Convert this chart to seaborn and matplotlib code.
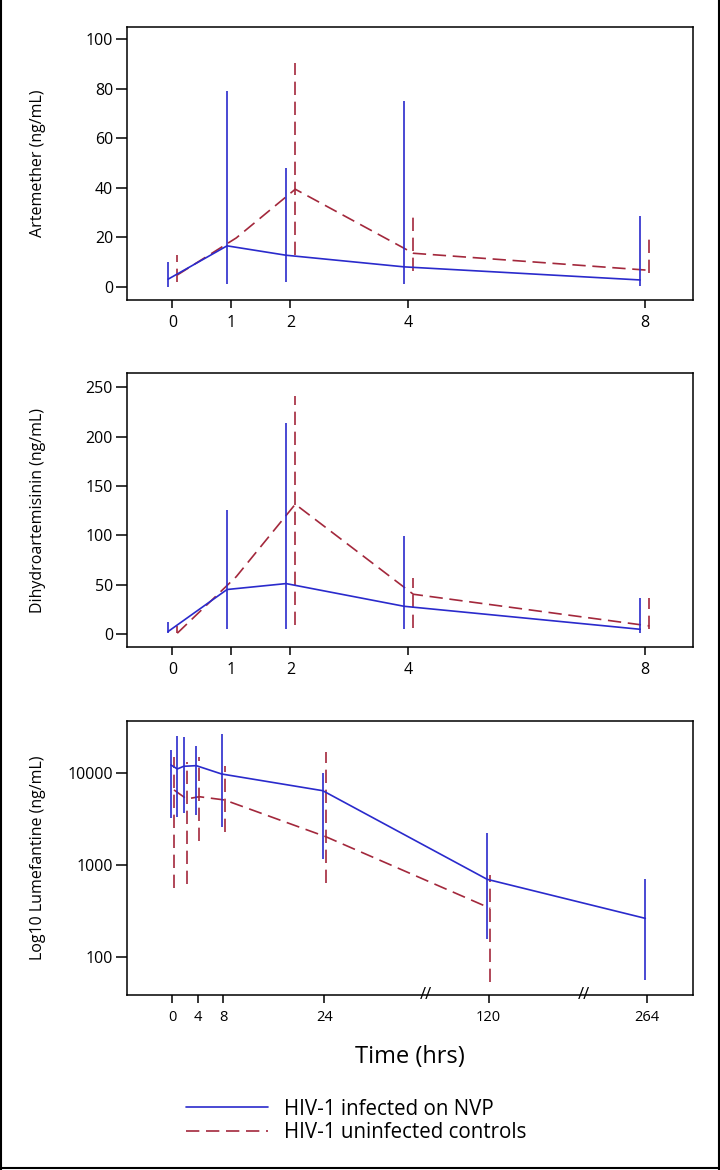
import numpy as np
import pandas as pd
import seaborn as sns
import matplotlib.pyplot as plt
from matplotlib.transforms import ScaledTranslation, blended_transform_factory
from matplotlib.lines import Line2D

# ---- data ----
TIME_ART = [0, 1, 2, 4, 8]

art_nvp_mean = [3.0, 16.5, 12.7, 8.0, 2.7]
art_nvp_lo = [0.0, 1.0, 2.0, 1.0, 0.3]
art_nvp_hi = [10.0, 79.0, 48.0, 75.0, 28.4]
art_ctl_mean = [4.7, 19.7, 39.4, 13.5, 6.6]
art_ctl_lo = [1.7, np.nan, 12.8, 6.2, 5.4]
art_ctl_hi = [12.8, np.nan, 90.4, 30.0, 19.7]

dha_nvp_mean = [2.4, 45.0, 51.0, 28.0, 4.7]
dha_nvp_lo = [0.7, 4.7, 4.7, 4.7, 1.3]
dha_nvp_hi = [12.5, 125.6, 214.0, 99.6, 36.0]
dha_ctl_mean = [0.7, 58.0, 131.4, 40.2, 8.1]
dha_ctl_lo = [0.7, np.nan, 9.0, 5.8, 4.7]
dha_ctl_hi = [8.0, np.nan, 241.0, 56.4, 36.0]

TIME_LUM_NVP = [0, 1, 2, 4, 8, 24, 120, 264]
lum_nvp_mean = [12130, 10970, 11730, 11920, 9680, 6370, 693, 261]
lum_nvp_lo = [3245, 3270, 3620, 3470, 2590, 1146, 154, 56]
lum_nvp_hi = [17660, 25060, 24250, 19500, 26100, 9840, 2230, 693]
TIME_LUM_CTL = [0, 2, 4, 8, 24, 120]
lum_ctl_mean = [6490, 5180, 5480, 5050, 2015, 336]
lum_ctl_lo = [553, 612, 1810, 2285, 637, 53.5]
lum_ctl_hi = [14700, 13180, 14700, 11920, 16910, 773]

LABEL_NVP = "HIV-1 infected on NVP"
LABEL_CTL = "HIV-1 uninfected controls"

BLUE = "#2a2acc"
RED = "#a3283c"
DASH = (0, (8, 4))
LW = 1.2

sns.set_style("ticks")
plt.rcParams["font.family"] = ["Open Sans", "DejaVu Sans"]
plt.rcParams["axes.linewidth"] = 1.1
plt.rcParams["xtick.major.width"] = 1.1
plt.rcParams["ytick.major.width"] = 1.1
plt.rcParams["xtick.color"] = "black"
plt.rcParams["ytick.color"] = "black"
plt.rcParams["axes.edgecolor"] = "black"
plt.rcParams["axes.labelcolor"] = "black"
plt.rcParams["text.color"] = "black"


# broken time axis for the lumefantrine panel
T_KNOTS = np.array([0.0, 24.0, 120.0, 264.0])
P_KNOTS = np.array([0.0, 24.0, 50.0, 75.0])


def fwd(t):
    t = np.asarray(t, dtype=float)
    out = np.interp(t, T_KNOTS, P_KNOTS)
    out = np.where(t < 0, t, out)
    out = np.where(t > 264, 75 + (t - 264) * 25 / 144, out)
    return out


def inv(p):
    p = np.asarray(p, dtype=float)
    out = np.interp(p, P_KNOTS, T_KNOTS)
    out = np.where(p < 0, p, out)
    out = np.where(p > 75, 264 + (p - 75) * 144 / 25, out)
    return out


def draw_group(ax, fig, time, mean, lo, hi, color, ls, label, dx_px):
    tr = ax.transData + ScaledTranslation(dx_px / 100, 0, fig.dpi_scale_trans)
    df = pd.DataFrame({"time": time, "mean": mean, "lo": lo, "hi": hi})
    sns.lineplot(data=df, x="time", y="mean", ax=ax, color=color, linestyle=ls,
                 linewidth=LW, estimator=None, sort=False, label=label,
                 transform=tr)
    ok = df.dropna()
    ax.vlines(ok["time"], ok["lo"], ok["hi"], colors=color, linestyles=[ls],
              linewidth=LW, transform=tr)


fig = plt.figure(figsize=(7.2, 11.7), dpi=100)
ax1 = fig.add_axes([0.1764, 0.7436, 0.786, 0.2333])
ax2 = fig.add_axes([0.1764, 0.4473, 0.786, 0.2336])
ax3 = fig.add_axes([0.1764, 0.1498, 0.786, 0.2342])

panels = [
    (ax1, art_nvp_mean, art_nvp_lo, art_nvp_hi, art_ctl_mean, art_ctl_lo, art_ctl_hi),
    (ax2, dha_nvp_mean, dha_nvp_lo, dha_nvp_hi, dha_ctl_mean, dha_ctl_lo, dha_ctl_hi),
]
for ax, nm, nl, nh, cm, cl, ch in panels:
    draw_group(ax, fig, TIME_ART, cm, cl, ch, RED, DASH, LABEL_CTL, 4.8)
    draw_group(ax, fig, TIME_ART, nm, nl, nh, BLUE, "-", LABEL_NVP, -4.4)
    ax.set_xlim(-0.77, 8.82)
    ax.set_xticks(TIME_ART)
    ax.set_xlabel("")

ax1.set_ylim(-5.4, 105)
ax1.set_yticks([0, 20, 40, 60, 80, 100])
ax1.set_ylabel("Artemether (ng/mL)", fontsize=11.5)
ax2.set_ylim(-12.9, 264)
ax2.set_yticks([0, 50, 100, 150, 200, 250])
ax2.set_ylabel("Dihydroartemisinin (ng/mL)", fontsize=11.5)

ax3.set_yscale("log")
ax3.set_xscale("function", functions=(fwd, inv))
draw_group(ax3, fig, TIME_LUM_CTL, lum_ctl_mean, lum_ctl_lo, lum_ctl_hi, RED, DASH, LABEL_CTL, 1.5)
draw_group(ax3, fig, TIME_LUM_NVP, lum_nvp_mean, lum_nvp_lo, lum_nvp_hi, BLUE, "-", LABEL_NVP, -1.5)
ax3.set_xlim(-7.19, 306)
ax3.set_ylim(38.6, 36700)
ax3.set_xticks([0, 4, 8, 24, 120, 264])
ax3.set_xticklabels(["0", "4", "8", "24", "120", "264"])
ax3.set_yticks([100, 1000, 10000])
ax3.set_yticklabels(["100", "1000", "10000"])
ax3.minorticks_off()
ax3.set_ylabel("Log10 Lumefantine (ng/mL)", fontsize=11.5)
ax3.set_xlabel("Time (hrs)", fontsize=17)
ax3.xaxis.set_label_coords(0.5, -0.185)

# axis break marks
brk = blended_transform_factory(ax3.transData, ax3.transAxes)
for tb in [83.08, 206.4]:
    ax3.text(tb, 0.0, "//", transform=brk, ha="center", va="center",
             fontsize=12, clip_on=False)

for ax in (ax1, ax2, ax3):
    ax.get_legend().remove()
    for s in ax.spines.values():
        s.set_visible(True)
    ax.tick_params(axis="y", length=8, labelsize=11.5, pad=2)
    ax.tick_params(axis="x", length=6, labelsize=11.5, pad=5)
    ax.yaxis.set_label_coords(-0.143, 0.5)
ax3.tick_params(axis="x", labelsize=10.5)

# legend at the bottom
handles = [Line2D([], [], color=BLUE, lw=LW, linestyle="-"),
           Line2D([], [], color=RED, lw=LW, linestyle=DASH)]
fig.legend(handles, [LABEL_NVP, LABEL_CTL], loc="upper left",
           bbox_to_anchor=(0.258, 0.061), frameon=False, fontsize=14.8,
           handlelength=4.0, handletextpad=0.8, labelspacing=0.12,
           borderpad=0, borderaxespad=0)

# outer frame
for xs, ys in [([0.002, 0.002], [0.0, 1.0]), ([0.998, 0.998], [0.0, 1.0]),
               ([0.0, 1.0], [0.002, 0.002])]:
    fig.add_artist(Line2D(xs, ys, color="black", lw=1.5, transform=fig.transFigure))

fig.savefig("out.png", dpi=100)
